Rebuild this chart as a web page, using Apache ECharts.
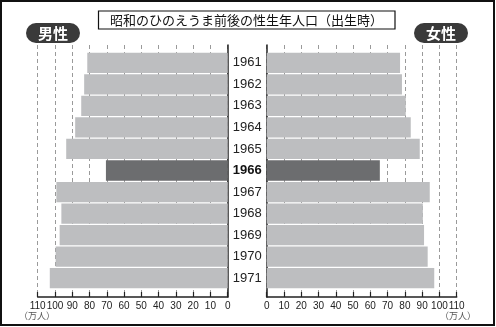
<!DOCTYPE html>
<html><head><meta charset="utf-8">
<script src="https://cdn.jsdelivr.net/npm/echarts@6/dist/echarts.min.js"></script>
<style>html,body{margin:0;padding:0;background:#fff}#c{width:496px;height:327px}</style>
</head><body><div id="c"></div>
<script>
const years = ['1961','1962','1963','1964','1965','1966','1967','1968','1969','1970','1971'];
const male = [81.3, 83.1, 84.8, 88.3, 93.5, 70.5, 99.2, 96.3, 97.3, 99.6, 103];
const female = [77.2, 78.3, 80.5, 83.4, 88.6, 65.5, 94.4, 90.4, 91.1, 93.2, 97];
const highlightYear = '1966';
const xTicksMax = 110;

const LIGHT = '#bdbec0', DARK = '#6c6d6f';
const numFont = '"Liberation Sans",Arial,sans-serif';
const jpFont = '"Noto Sans CJK JP","Noto Sans CJK SC",sans-serif';

function barData(vals){
  return vals.map((v,i)=>({value:v,itemStyle:{color: years[i]===highlightYear?DARK:LIGHT}}));
}
const L0 = 37.7, L1 = 227.7, R0 = 266.7, R1 = 456.7, W = 496;
const chart = echarts.init(document.getElementById('c'), null, {renderer:'canvas'});
const axisX = (inv, gi) => ({
  type:'value', gridIndex:gi, min:0, max:xTicksMax, interval:10, inverse:inv,
  axisLine:{show:true, lineStyle:{color:'#222', width:1.5}},
  axisTick:{show:true, inside:true, length:5, lineStyle:{color:'#222', width:1.2}},
  axisLabel:{color:'#222', fontSize:10, fontFamily:numFont, margin:4, showMaxLabel:true, showMinLabel:true, hideOverlap:false},
  splitLine:{show:true, lineStyle:{color:'#9a9a9a', type:[4,3], width:1}}
});
const hiddenX = (inv, gi) => ({type:'value', gridIndex:gi, min:0, max:xTicksMax, inverse:inv, show:false, splitLine:{show:false}});
chart.setOption({
  animation:false,
  grid:[
    {left:L0, right:W-L1, top:45, bottom:30},
    {left:L0, right:W-L1, top:52, bottom:38},
    {left:R0, right:W-R1, top:45, bottom:30},
    {left:R0, right:W-R1, top:52, bottom:38}
  ],
  xAxis:[axisX(true,0), hiddenX(true,1), axisX(false,2), hiddenX(false,3)],
  yAxis:[
    {type:'value', gridIndex:0, position:'right', min:0, max:1, axisLine:{show:true, lineStyle:{color:'#222', width:1.5}}, axisTick:{show:false}, axisLabel:{show:false}, splitLine:{show:false}},
    {type:'category', gridIndex:1, data:years, inverse:true, position:'right',
      axisLine:{show:false}, axisTick:{show:false},
      axisLabel:{margin:19.5, align:'center', fontSize:13, fontFamily:'"Liberation Sans",Arial,sans-serif',
        color:'#222', formatter:(v)=> v===highlightYear ? '{b|'+v+'}' : v,
        rich:{b:{fontWeight:'bold', fontSize:13, color:'#111', fontFamily:'"Liberation Sans",Arial,sans-serif'}}}},
    {type:'value', gridIndex:2, position:'left', min:0, max:1, axisLine:{show:true, lineStyle:{color:'#222', width:1.5}}, axisTick:{show:false}, axisLabel:{show:false}, splitLine:{show:false}},
    {type:'category', gridIndex:3, data:years, inverse:true, show:false}
  ],
  series:[
    {type:'bar', xAxisIndex:1, yAxisIndex:1, data:barData(male), barCategoryGap:'6%', silent:true},
    {type:'bar', xAxisIndex:3, yAxisIndex:3, data:barData(female), barCategoryGap:'6%', silent:true}
  ],
  graphic:[
    {type:'rect', shape:{x:1,y:1,width:493,height:324}, style:{fill:null, stroke:'#111', lineWidth:2}},
    {type:'rect', shape:{x:98.5,y:11,width:296.5,height:18}, style:{fill:'#fff', stroke:'#111', lineWidth:1.2}},
    {type:'text', x:246.5, y:20, style:{text:'昭和のひのえうま前後の性生年人口（出生時）', fontSize:13, fontFamily:jpFont, fill:'#111', align:'center', verticalAlign:'middle'}},
    {type:'rect', shape:{x:26,y:23,width:54,height:20,r:10}, style:{fill:'#3a3a3a'}},
    {type:'text', x:53, y:33.5, style:{text:'男性', fontSize:15, fontWeight:'bold', fontFamily:jpFont, fill:'#fff', align:'center', verticalAlign:'middle'}},
    {type:'rect', shape:{x:414,y:23,width:54,height:20,r:10}, style:{fill:'#3a3a3a'}},
    {type:'text', x:441, y:33.5, style:{text:'女性', fontSize:15, fontWeight:'bold', fontFamily:jpFont, fill:'#fff', align:'center', verticalAlign:'middle'}},
    {type:'text', x:37, y:316, style:{text:'（万人）', fontSize:9, fontFamily:jpFont, fill:'#555', align:'center', verticalAlign:'middle'}},
    {type:'text', x:458, y:316, style:{text:'（万人）', fontSize:9, fontFamily:jpFont, fill:'#555', align:'center', verticalAlign:'middle'}}
  ]
});
</script></body></html>
